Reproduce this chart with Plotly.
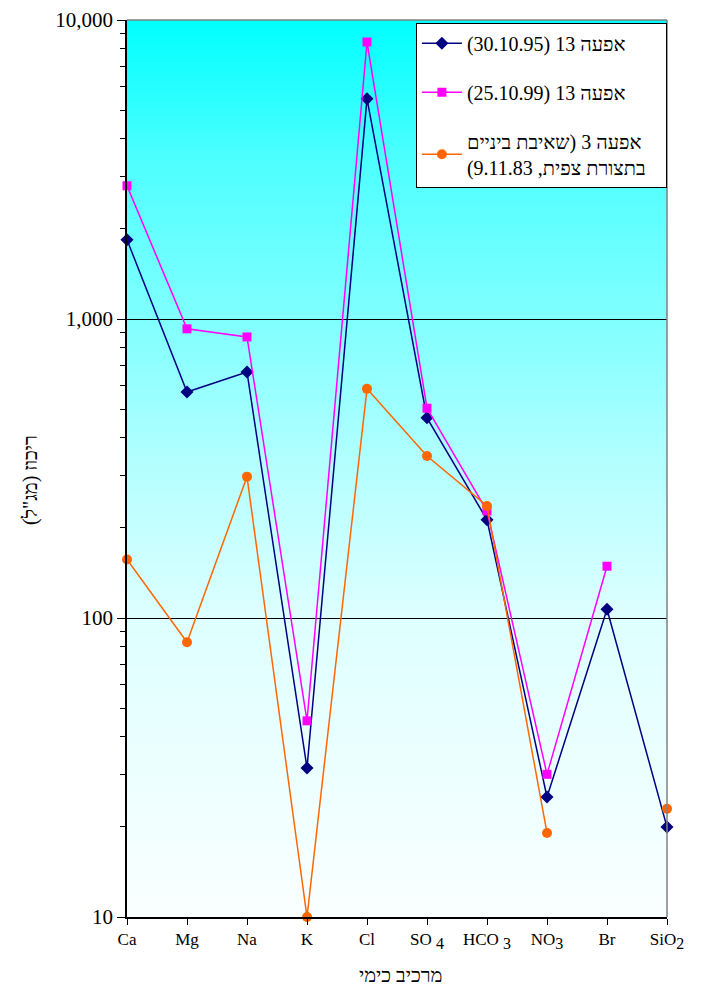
import plotly.graph_objects as go

SUBF = "<sub><span style=\"font-size:16px\">{}</span></sub>"
categories = ["Ca", "Mg", "Na", "K", "Cl", "SO " + SUBF.format("4"), "HCO " + SUBF.format("3"),
              "NO" + SUBF.format("3"), "Br", "SiO" + SUBF.format("2")]
series_1995 = [1840, 570, 665, 31.5, 5450, 467, 213, 25.2, 107, 20]
series_1999 = [2790, 927, 871, 45.3, 8440, 503, 228, 30, 149, None]
series_1983 = [157, 83, 297, 10, 584, 348, 237, 19.1, None, 23]
y_tickvals = [10, 100, 1000, 10000]
y_ticktext = ["10", "100", "1,000", "10,000"]

RLE = "\u202B"
PDF = "\u202C"
NB = "\u00a0"
SER = "<span style=\"font-family:'Liberation Serif'\">"
name_1995 = SER + "(30.10.95) 13 </span>אפעה"
name_1999 = SER + "(25.10.99) 13 </span>אפעה"
name_1983 = RLE + "אפעה 3 (שאיבת ביניים" + PDF + "<br>" + RLE + "בתצורת צפית, 9.11.83)" + PDF + NB * 3
x_title = "מרכיב כימי"
y_title = RLE + "ריכוז (מג\"ל)" + PDF

xs = list(range(len(categories)))
FONT = "Liberation Serif, Times New Roman, serif"

fig = go.Figure()
fig.add_trace(go.Scatter(x=xs, y=series_1995, name=name_1995, mode="lines+markers",
                         line=dict(color="#000080", width=1.5),
                         marker=dict(symbol="diamond", size=10, color="#000080"),
                         legendgroup="a", cliponaxis=False))
fig.add_trace(go.Scatter(x=xs, y=series_1999, name=name_1999, mode="lines+markers",
                         line=dict(color="#FF00FF", width=1.5),
                         marker=dict(symbol="square", size=9, color="#FF00FF"),
                         legendgroup="b", cliponaxis=False))
fig.add_trace(go.Scatter(x=xs, y=series_1983, name=name_1983, mode="lines+markers",
                         line=dict(color="#FF6600", width=1.5),
                         marker=dict(symbol="circle", size=10, color="#FF6600"),
                         connectgaps=False, legendgroup="c", cliponaxis=False))

# gradient background (cyan at top to white at bottom)
stops = [(0, 0), (0.156, 78), (0.333, 128), (0.435, 160), (0.49, 178), (0.667, 222), (1.0, 250)]
def red_at(f):
    for (f0, r0), (f1, r1) in zip(stops[:-1], stops[1:]):
        if f0 <= f <= f1:
            return r0 + (r1 - r0) * (f - f0) / (f1 - f0)
    return 250
N = 150
shapes = []
for i in range(N):
    f = (i + 0.5) / N
    r = int(round(red_at(f)))
    shapes.append(dict(type="rect", xref="x domain", yref="y domain",
                       x0=0, x1=1, y0=1 - (i + 1) / N - 0.001, y1=1 - i / N,
                       fillcolor=f"rgb({r},255,255)", line=dict(width=0), layer="below"))
# gray top and right border
shapes.append(dict(type="line", xref="x domain", yref="y domain", x0=0, x1=1, y0=1, y1=1,
                   line=dict(color="#808080", width=1.5)))
shapes.append(dict(type="line", xref="x domain", yref="y domain", x0=1, x1=1, y0=0, y1=1,
                   line=dict(color="#808080", width=1.5)))

minor_vals = [m * 10 ** e for e in (1, 2, 3) for m in range(2, 10)]

fig.update_layout(
    width=701, height=989,
    margin=dict(l=127, r=34, t=20, b=72),
    paper_bgcolor="white", plot_bgcolor="white",
    font=dict(family=FONT, color="black"),
    shapes=shapes,
    showlegend=True,
    legend=dict(x=0.535, y=0.997, xanchor="left", yanchor="top",
                bgcolor="white", bordercolor="black", borderwidth=1,
                font=dict(family=FONT, size=20, color="black"),
                tracegroupgap=20, itemwidth=40),
    xaxis=dict(range=[0, 9], tickvals=xs, ticktext=categories, automargin=False,
               ticks="outside", ticklen=6, tickcolor="black",
               showline=True, linecolor="black", linewidth=1.5,
               showgrid=False, zeroline=False,
               tickfont=dict(family=FONT, size=17, color="black")),
    yaxis=dict(type="log", range=[1, 4], tickvals=y_tickvals, ticktext=y_ticktext, automargin=False,
               ticks="outside", ticklen=8, tickcolor="black",
               showline=True, linecolor="black", linewidth=1.5,
               showgrid=True, gridcolor="black", gridwidth=1, zeroline=False,
               minor=dict(tickvals=minor_vals, ticks="outside", ticklen=5, tickcolor="black", showgrid=False),
               tickfont=dict(family=FONT, size=21, color="black")),
    annotations=[
        dict(text=x_title, xref="paper", yref="paper", x=0.5056, y=-0.0647,
             xanchor="center", yanchor="middle", showarrow=False,
             font=dict(family=FONT, size=20, color="black")),
        dict(text=y_title, xref="paper", yref="paper", x=-0.18, y=0.487,
             xanchor="center", yanchor="middle", showarrow=False, textangle=-90,
             font=dict(family=FONT, size=20, color="black")),
    ],
)

fig.write_html("out.html")
